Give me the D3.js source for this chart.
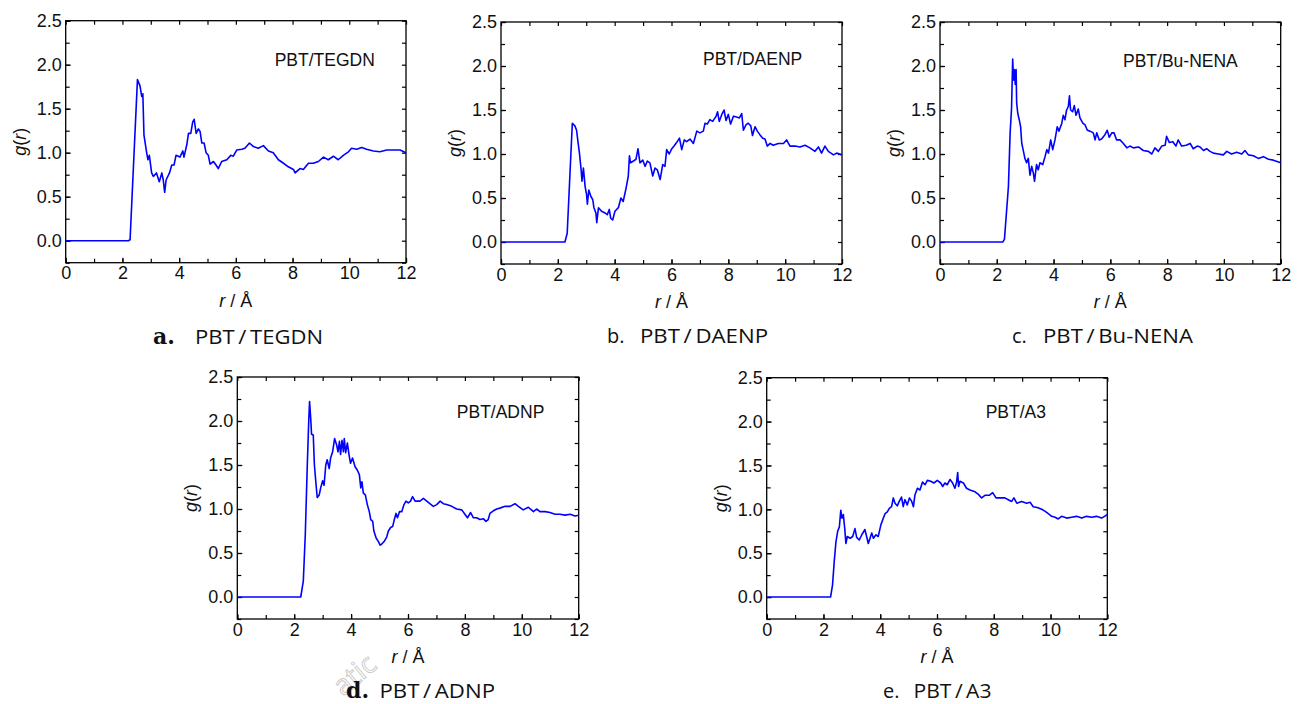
<!DOCTYPE html>
<html><head><meta charset="utf-8">
<script src="https://cdn.jsdelivr.net/npm/d3@7"></script>
<style>body{margin:0;background:#fff}svg{display:block}</style>
</head><body>
<svg id="c" width="1298" height="704"></svg>
<script>
// ---------------- data (r in Å, g(r)) ----------------
const xTicks = [0, 2, 4, 6, 8, 10, 12];
const yTicks = [0.0, 0.5, 1.0, 1.5, 2.0, 2.5];
const xDomain = [0, 12];
const yDomain = [-0.25, 2.5];

const seriesTEGDN = [[0,0],[2.21,0],[2.27,0.01],[2.53,1.83],[2.62,1.76],[2.68,1.64],[2.72,1.67],[2.76,1.2],[2.86,0.99],[2.9,0.92],[2.95,0.97],[3.03,0.77],[3.09,0.73],[3.2,0.77],[3.3,0.67],[3.39,0.77],[3.44,0.69],[3.49,0.55],[3.54,0.69],[3.66,0.77],[3.74,0.86],[3.82,0.86],[3.89,0.97],[4.03,0.95],[4.13,1.02],[4.17,0.95],[4.27,1.09],[4.33,1.22],[4.41,1.22],[4.48,1.35],[4.53,1.38],[4.6,1.22],[4.68,1.27],[4.74,1.24],[4.8,1.11],[4.88,1.11],[4.95,1.0],[5.03,0.97],[5.09,0.87],[5.21,0.9],[5.3,0.86],[5.38,0.82],[5.5,0.9],[5.68,0.92],[5.82,0.97],[5.91,0.96],[6.03,1.03],[6.21,1.04],[6.32,1.05],[6.48,1.11],[6.62,1.07],[6.79,1.05],[6.97,1.08],[7.15,1.02],[7.32,1.0],[7.5,0.92],[7.68,0.88],[7.85,0.84],[8.03,0.81],[8.09,0.77],[8.26,0.82],[8.38,0.81],[8.56,0.88],[8.73,0.88],[8.91,0.9],[9.09,0.95],[9.26,0.92],[9.44,0.96],[9.61,0.92],[9.79,0.97],[9.97,1.01],[10.08,1.05],[10.26,1.04],[10.44,1.06],[10.61,1.04],[10.85,1.02],[11.08,1.01],[11.32,1.03],[11.55,1.03],[11.79,1.03],[12,1.0]];

const seriesDAENP = [[0,0],[2.25,0],[2.33,0.1],[2.51,1.35],[2.6,1.32],[2.66,1.27],[2.7,1.16],[2.76,1.01],[2.82,0.82],[2.85,0.69],[2.9,0.84],[2.96,0.63],[3.01,0.54],[3.04,0.43],[3.09,0.59],[3.16,0.52],[3.23,0.48],[3.27,0.39],[3.34,0.33],[3.37,0.22],[3.43,0.39],[3.54,0.35],[3.66,0.33],[3.74,0.31],[3.81,0.37],[3.86,0.27],[3.93,0.25],[4.01,0.35],[4.13,0.39],[4.22,0.5],[4.3,0.46],[4.4,0.61],[4.48,0.75],[4.52,0.98],[4.56,0.9],[4.66,0.92],[4.75,0.94],[4.82,1.06],[4.89,0.9],[4.99,0.93],[5.07,0.86],[5.15,0.92],[5.24,0.9],[5.34,0.75],[5.42,0.84],[5.5,0.82],[5.6,0.71],[5.69,0.88],[5.77,0.86],[5.83,1.05],[5.92,1.0],[6.01,1.06],[6.09,1.09],[6.18,1.13],[6.28,1.18],[6.36,1.05],[6.45,1.16],[6.53,1.14],[6.65,1.17],[6.77,1.12],[6.89,1.26],[7.0,1.24],[7.12,1.26],[7.18,1.35],[7.26,1.34],[7.35,1.39],[7.45,1.37],[7.57,1.43],[7.62,1.48],[7.68,1.37],[7.77,1.45],[7.85,1.5],[7.92,1.38],[8.0,1.45],[8.08,1.34],[8.18,1.43],[8.29,1.42],[8.39,1.41],[8.47,1.46],[8.53,1.27],[8.62,1.33],[8.7,1.35],[8.79,1.32],[8.85,1.21],[8.94,1.31],[9.02,1.26],[9.11,1.22],[9.21,1.18],[9.29,1.17],[9.37,1.09],[9.47,1.12],[9.58,1.1],[9.76,1.12],[9.94,1.12],[10.05,1.16],[10.17,1.09],[10.35,1.09],[10.52,1.08],[10.7,1.1],[10.87,1.07],[11.05,1.03],[11.17,1.08],[11.28,1.01],[11.4,1.09],[11.52,1.03],[11.7,0.99],[11.81,1.01],[12,0.99]];

const seriesBuNENA = [[0,0],[2.21,0],[2.27,0.03],[2.41,0.63],[2.47,1.24],[2.52,1.52],[2.56,2.08],[2.59,1.84],[2.62,1.96],[2.65,1.79],[2.68,1.96],[2.7,1.58],[2.74,1.46],[2.79,1.39],[2.84,1.31],[2.88,1.12],[2.94,1.03],[2.99,0.95],[3.05,0.9],[3.11,0.95],[3.17,0.76],[3.23,0.86],[3.29,0.78],[3.33,0.69],[3.4,0.88],[3.46,0.82],[3.52,0.9],[3.62,0.88],[3.7,0.97],[3.76,1.05],[3.82,1.01],[3.9,1.16],[3.97,1.05],[4.05,1.16],[4.13,1.31],[4.19,1.26],[4.29,1.35],[4.34,1.44],[4.4,1.39],[4.46,1.5],[4.52,1.54],[4.56,1.66],[4.6,1.5],[4.67,1.48],[4.73,1.55],[4.79,1.44],[4.87,1.51],[4.93,1.41],[5.03,1.35],[5.11,1.33],[5.19,1.27],[5.28,1.26],[5.4,1.24],[5.46,1.16],[5.52,1.24],[5.61,1.16],[5.69,1.17],[5.81,1.22],[5.89,1.27],[5.96,1.19],[6.05,1.24],[6.13,1.24],[6.22,1.16],[6.34,1.16],[6.46,1.12],[6.58,1.07],[6.69,1.09],[6.81,1.07],[6.99,1.08],[7.16,1.04],[7.34,1.03],[7.46,1.0],[7.57,1.07],[7.69,1.03],[7.81,1.09],[7.93,1.1],[7.98,1.2],[8.08,1.13],[8.2,1.14],[8.31,1.09],[8.39,1.16],[8.51,1.09],[8.67,1.1],[8.81,1.12],[8.92,1.06],[9.06,1.09],[9.16,1.08],[9.28,1.04],[9.39,1.06],[9.51,1.03],[9.63,1.01],[9.8,1.0],[9.98,0.99],[10.1,1.03],[10.27,1.0],[10.45,1.02],[10.63,1.0],[10.74,1.04],[10.86,0.99],[11.04,0.98],[11.21,0.95],[11.39,0.97],[11.57,0.94],[11.74,0.93],[12,0.9]];

const seriesADNP = [[0,0],[2.23,0],[2.32,0.18],[2.39,0.71],[2.46,1.5],[2.51,1.99],[2.54,2.22],[2.58,2.03],[2.61,1.85],[2.67,1.84],[2.71,1.5],[2.77,1.27],[2.81,1.13],[2.88,1.16],[2.93,1.24],[3.0,1.32],[3.05,1.27],[3.11,1.5],[3.16,1.56],[3.23,1.46],[3.28,1.58],[3.35,1.65],[3.42,1.8],[3.49,1.73],[3.54,1.65],[3.59,1.77],[3.63,1.62],[3.68,1.78],[3.73,1.65],[3.76,1.8],[3.81,1.64],[3.87,1.75],[3.93,1.61],[3.98,1.52],[4.05,1.58],[4.14,1.48],[4.22,1.44],[4.29,1.39],[4.34,1.24],[4.38,1.31],[4.43,1.18],[4.5,1.16],[4.57,1.05],[4.64,0.97],[4.69,0.88],[4.76,0.86],[4.8,0.75],[4.88,0.67],[4.96,0.63],[5.02,0.59],[5.07,0.6],[5.16,0.63],[5.25,0.68],[5.31,0.75],[5.39,0.79],[5.46,0.8],[5.52,0.88],[5.58,0.95],[5.63,0.9],[5.7,0.97],[5.78,0.97],[5.86,1.05],[5.93,1.09],[6.01,1.07],[6.09,1.09],[6.16,1.14],[6.25,1.09],[6.42,1.09],[6.54,1.12],[6.66,1.09],[6.77,1.06],[6.89,1.03],[7.01,1.05],[7.13,1.09],[7.24,1.06],[7.36,1.05],[7.54,1.03],[7.71,1.0],[7.89,0.99],[8.0,0.94],[8.09,0.9],[8.2,0.96],[8.3,0.9],[8.41,0.9],[8.53,0.88],[8.65,0.89],[8.74,0.86],[8.82,0.88],[8.88,0.95],[9.0,0.98],[9.12,1.0],[9.23,1.01],[9.41,1.03],[9.59,1.03],[9.76,1.06],[9.88,1.03],[10.05,0.99],[10.23,1.02],[10.41,0.97],[10.52,1.0],[10.64,0.97],[10.82,0.97],[10.99,0.96],[11.17,0.94],[11.34,0.94],[11.52,0.93],[11.7,0.94],[11.87,0.92],[12,0.93]];

const seriesA3 = [[0,0],[2.25,0],[2.32,0.14],[2.38,0.41],[2.44,0.63],[2.5,0.75],[2.56,0.8],[2.61,0.99],[2.65,0.9],[2.7,0.94],[2.75,0.78],[2.79,0.61],[2.84,0.69],[2.94,0.67],[3.03,0.69],[3.11,0.78],[3.17,0.68],[3.26,0.65],[3.35,0.71],[3.46,0.77],[3.52,0.69],[3.58,0.61],[3.64,0.67],[3.7,0.73],[3.76,0.67],[3.85,0.71],[3.93,0.69],[4.02,0.82],[4.11,0.9],[4.17,0.95],[4.25,0.97],[4.32,1.01],[4.4,1.03],[4.46,1.13],[4.52,1.07],[4.6,1.04],[4.67,1.09],[4.75,1.14],[4.81,1.03],[4.87,1.11],[4.95,1.05],[5.03,1.13],[5.11,1.09],[5.17,1.03],[5.22,1.16],[5.31,1.24],[5.4,1.22],[5.49,1.31],[5.58,1.28],[5.66,1.33],[5.78,1.32],[5.89,1.3],[6.01,1.33],[6.13,1.3],[6.2,1.26],[6.28,1.3],[6.36,1.28],[6.46,1.34],[6.55,1.3],[6.63,1.24],[6.69,1.31],[6.73,1.42],[6.76,1.26],[6.81,1.32],[6.93,1.3],[7.04,1.24],[7.16,1.22],[7.34,1.2],[7.46,1.17],[7.57,1.13],[7.69,1.16],[7.84,1.16],[7.96,1.19],[8.08,1.13],[8.22,1.13],[8.39,1.13],[8.51,1.11],[8.63,1.09],[8.71,1.13],[8.81,1.07],[8.98,1.09],[9.16,1.07],[9.28,1.08],[9.39,1.03],[9.53,1.02],[9.69,1.0],[9.8,0.98],[9.92,0.95],[10.04,0.92],[10.16,0.91],[10.27,0.89],[10.39,0.92],[10.57,0.9],[10.74,0.91],[10.92,0.92],[11.1,0.9],[11.27,0.92],[11.45,0.91],[11.62,0.92],[11.8,0.9],[12,0.94]];

const labels = ["PBT/TEGDN", "PBT/DAENP", "PBT/Bu-NENA", "PBT/ADNP", "PBT/A3"];
const captionLetters = ["a.", "b.", "c.", "d.", "e."];
const captionNames = ["PBT\u2009/\u2009TEGDN", "PBT\u2009/\u2009DAENP", "PBT\u2009/\u2009Bu-NENA", "PBT\u2009/\u2009ADNP", "PBT\u2009/\u2009A3"];
const seriesList = [seriesTEGDN, seriesDAENP, seriesBuNENA, seriesADNP, seriesA3];

// ---------------- layout ----------------
const layout = [
  {x:65.7, y:20.7, w:340.3, h:242, annX:209, annY:45, capX:153, capNameX:195, capNameW:128, capY:344, bold:true},
  {x:501, y:22, w:341, h:242, annX:202, annY:43, capX:607, capNameX:640, capNameW:128, capY:342.5, bold:false},
  {x:940, y:22, w:340.7, h:242, annX:183, annY:45, capX:1012, capNameX:1043, capNameW:150, capY:342.5, bold:false},
  {x:237.3, y:377, w:341.4, h:242, annX:219.5, annY:40.5, capX:346, capNameX:379.5, capNameW:115.5, capY:698, bold:true},
  {x:766.7, y:377.7, w:340.6, h:241.3, annX:219, annY:40, capX:883, capNameX:913.5, capNameW:78, capY:698, bold:false}
];

const svg = d3.select("#c");
const FONT = "'Liberation Sans', Arial, sans-serif";

// faint watermark fragment (drawn first, behind the captions)
svg.append("text")
  .attr("transform", "translate(343,697) rotate(-40)")
  .attr("font-family", "'Open Sans', sans-serif").attr("font-size", 28)
  .attr("fill", "none").attr("stroke", "#c9c9c9").attr("stroke-width", 0.9)
  .text("atic");

seriesList.forEach((data, i) => {
  const L = layout[i];
  const g = svg.append("g").attr("transform", `translate(${L.x},${L.y})`);
  const x = d3.scaleLinear().domain(xDomain).range([0, L.w]);
  const y = d3.scaleLinear().domain(yDomain).range([L.h, 0]);

  const styleAxis = sel => {
    sel.select(".domain").remove();
    sel.selectAll("line").attr("stroke", "#000").attr("stroke-width", 1.2);
    sel.selectAll("text").attr("font-family", FONT).attr("font-size", 18).attr("fill", "#111");
  };
  const minorX = d3.range(0, 12.01, 1);
  const minorY = d3.range(-0.25, 2.51, 0.25);

  // bottom
  g.append("g").attr("transform", `translate(0,${L.h})`)
    .call(d3.axisBottom(x).tickValues(minorX).tickSize(-4).tickFormat(""))
    .call(styleAxis);
  g.append("g").attr("transform", `translate(0,${L.h})`)
    .call(d3.axisBottom(x).tickValues(xTicks).tickSize(-5).tickPadding(4).tickFormat(d3.format("d")))
    .call(styleAxis);
  // top
  g.append("g")
    .call(d3.axisTop(x).tickValues(minorX).tickSize(-4).tickFormat(""))
    .call(styleAxis);
  // left
  g.append("g")
    .call(d3.axisLeft(y).tickValues(minorY).tickSize(-4).tickFormat(""))
    .call(styleAxis);
  g.append("g")
    .call(d3.axisLeft(y).tickValues(yTicks).tickSize(-5).tickPadding(4).tickFormat(d3.format(".1f")))
    .call(styleAxis);
  // right
  g.append("g").attr("transform", `translate(${L.w},0)`)
    .call(d3.axisRight(y).tickValues(minorY).tickSize(-4).tickFormat(""))
    .call(styleAxis);

  // frame
  g.append("rect").attr("width", L.w).attr("height", L.h)
    .attr("fill", "none").attr("stroke", "#000").attr("stroke-width", 1.3);

  // curve
  g.append("path").datum(data)
    .attr("d", d3.line().x(d => x(d[0])).y(d => y(d[1])))
    .attr("fill", "none").attr("stroke", "#0000ff").attr("stroke-width", 1.6)
    .attr("stroke-linejoin", "round");

  // annotation
  g.append("text").attr("x", L.annX).attr("y", L.annY)
    .attr("font-family", FONT).attr("font-size", 17.5).attr("fill", "#111")
    .text(labels[i]);

  // y title g(r)
  const yt = g.append("text")
    .attr("transform", `translate(${-40},${L.h / 2}) rotate(-90)`)
    .attr("text-anchor", "middle")
    .attr("font-family", FONT).attr("font-size", 18).attr("fill", "#111");
  yt.append("tspan").attr("font-style", "italic").text("g");
  yt.append("tspan").text("(");
  yt.append("tspan").attr("font-style", "italic").text("r");
  yt.append("tspan").text(")");

  // x title r / Å
  const xt = g.append("text")
    .attr("x", L.w / 2).attr("y", L.h + 44)
    .attr("text-anchor", "middle")
    .attr("font-family", FONT).attr("font-size", 18).attr("fill", "#111");
  xt.append("tspan").attr("font-style", "italic").text("r");
  xt.append("tspan").text(" / Å");

  // caption
  svg.append("text").attr("x", L.capX).attr("y", L.capY)
    .attr("font-family", L.bold ? "'DejaVu Serif', 'Liberation Serif', serif" : "'Open Sans', sans-serif")
    .attr("font-weight", L.bold ? "bold" : "normal")
    .attr("font-size", L.bold ? 22 : 20).attr("fill", "#111")
    .text(captionLetters[i]);
  svg.append("text").attr("x", L.capNameX).attr("y", L.capY)
    .attr("font-family", "'Open Sans', sans-serif")
    .attr("font-size", 20).attr("fill", "#111")
    .attr("textLength", L.capNameW).attr("lengthAdjust", "spacingAndGlyphs")
    .text(captionNames[i]);
});
</script>
</body></html>
